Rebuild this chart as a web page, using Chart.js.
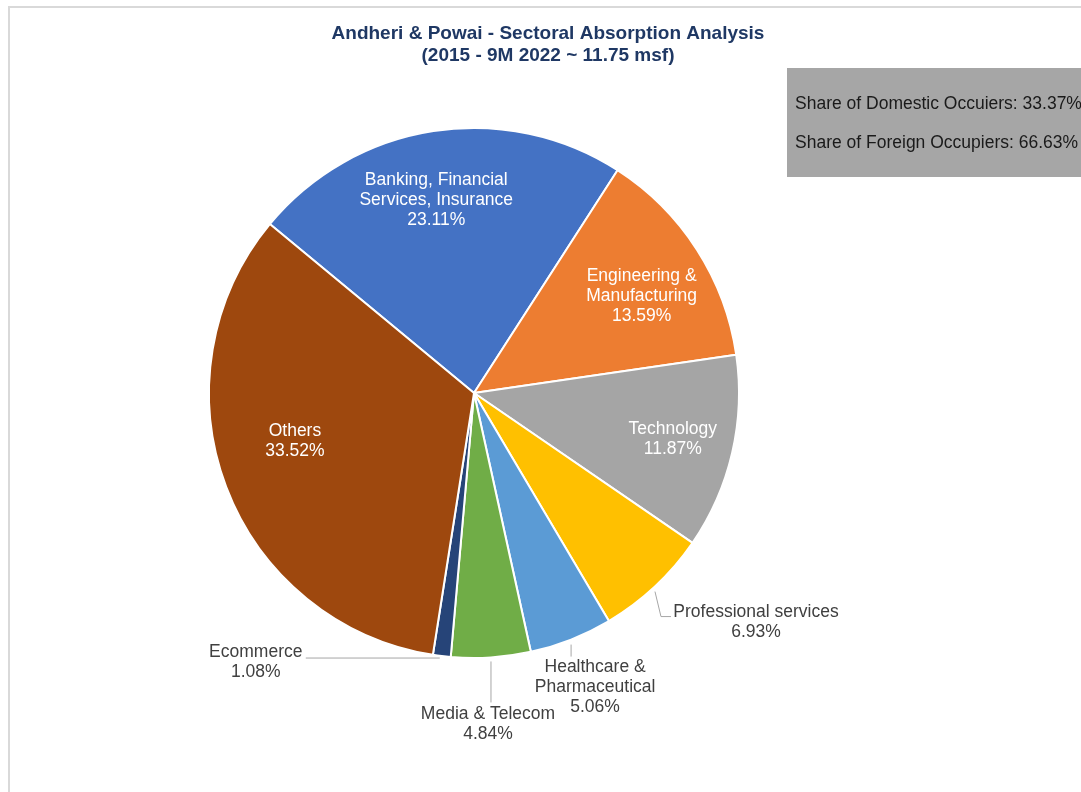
<!DOCTYPE html>
<html>
<head>
<meta charset="utf-8">
<script src="https://cdn.jsdelivr.net/npm/chart.js@4.4.0/dist/chart.umd.min.js"></script>
<style>
    html, body { margin: 0; padding: 0; background: #fff; }
    #wrap { width: 1081px; height: 792px; position: relative; }
</style>
</head>
<body>
<div id="wrap"><canvas id="sectorChart"></canvas></div>
<script>
// data
const sectors = ['Banking, Financial Services, Insurance', 'Engineering & Manufacturing', 'Technology',
    'Professional services', 'Healthcare & Pharmaceutical', 'Media & Telecom', 'Ecommerce', 'Others'];
const shares = [23.11, 13.59, 11.87, 6.93, 5.06, 4.84, 1.08, 33.52];
const labelLines = [['Banking, Financial', 'Services, Insurance'], ['Engineering &', 'Manufacturing'], ['Technology'],
    ['Professional services'], ['Healthcare &', 'Pharmaceutical'], ['Media & Telecom'], ['Ecommerce'], ['Others']];
const colours = ['#4472c4', '#ed7d31', '#a5a5a5', '#ffc000', '#5b9bd5', '#70ad47', '#264478', '#9e480e'];
const titleLines = ['Andheri & Powai - Sectoral Absorption Analysis', '(2015 - 9M 2022 ~ 11.75 msf)'];
const occupierNotes = ['Share of Domestic Occuiers: 33.37%', 'Share of Foreign Occupiers: 66.63%'];

const FONT = '"Liberation Sans", Arial, sans-serif';
const LINE_H = 20;

// how each label sits: inside at a fraction of the radius (plus a small angle nudge, degrees),
// or outside with a leader line
const labelPlace = [
    { inside: 0.74, turn: -2.3 },
    { inside: 0.73, turn: 2.8 },
    { inside: 0.77, turn: 0 },
    { leader: [[0, 5], [6, 30], [16, 30]], text: [101, 26] },
    { leader: [[0, 5], [0, 17]], text: [24, 28] },
    { leader: [[0, 4], [0, 45]], text: [-3, 57] },
    { leader: [[-2, 2], [-136, 2]], text: [-186, -4] },
    { inside: 0.70, turn: 5.6 }
];

const decorPlugin = {
    id: 'decor',
    beforeDraw(chart) {
        const c = chart.ctx;
        c.save();
        // outer frame (cut at right / bottom)
        c.strokeStyle = '#d9d9d9';
        c.lineWidth = 2;
        c.strokeRect(9, 7, 1200, 1000);
        // title
        c.fillStyle = '#1f3864';
        c.font = 'bold 19px ' + FONT;
        c.textAlign = 'center';
        c.textBaseline = 'middle';
        titleLines.forEach((t, i) => c.fillText(t, 548, 34 + i * 22));
        // grey note box
        c.fillStyle = '#a6a6a6';
        c.fillRect(787, 68, 300, 109);
        c.fillStyle = '#1a1a1a';
        c.font = '17.5px ' + FONT;
        c.textAlign = 'left';
        occupierNotes.forEach((t, i) => c.fillText(t, 795, 104 + i * 39));
        c.restore();
    },
    afterDatasetsDraw(chart) {
        const c = chart.ctx;
        const meta = chart.getDatasetMeta(0);
        c.save();
        c.font = '17.5px ' + FONT;
        c.textAlign = 'center';
        c.textBaseline = 'middle';
        meta.data.forEach((arc, i) => {
            const p = arc.getProps(['x', 'y', 'startAngle', 'endAngle', 'outerRadius'], true);
            const mid = (p.startAngle + p.endAngle) / 2;
            const lines = labelLines[i].concat([shares[i].toFixed(2) + '%']);
            const place = labelPlace[i];
            if (place.inside) {
                const r = p.outerRadius * place.inside;
                const a = mid + place.turn * Math.PI / 180;
                const cx = p.x + Math.cos(a) * r;
                const cy = p.y + Math.sin(a) * r;
                c.fillStyle = '#ffffff';
                const top = cy - (lines.length - 1) * LINE_H / 2;
                lines.forEach((t, k) => c.fillText(t, cx, top + k * LINE_H));
            } else {
                const ex = p.x + Math.cos(mid) * p.outerRadius;
                const ey = p.y + Math.sin(mid) * p.outerRadius;
                c.strokeStyle = '#a6a6a6';
                c.lineWidth = 1;
                c.beginPath();
                place.leader.forEach((pt, k) => {
                    if (k === 0) c.moveTo(ex + pt[0], ey + pt[1]);
                    else c.lineTo(ex + pt[0], ey + pt[1]);
                });
                c.stroke();
                c.fillStyle = '#404040';
                lines.forEach((t, k) => c.fillText(t, ex + place.text[0], ey + place.text[1] + k * LINE_H));
            }
        });
        c.restore();
    }
};

const ctx = document.getElementById('sectorChart').getContext('2d');
const sectorChart = new Chart(ctx, {
    type: 'pie',
    data: {
        labels: sectors,
        datasets: [{
            data: shares,
            backgroundColor: colours,
            borderColor: '#ffffff',
            borderWidth: 2
        }]
    },
    options: {
        responsive: true,
        maintainAspectRatio: false,
        animation: false,
        rotation: -50.4,
        layout: {
            padding: { left: 208, right: 341, top: 127, bottom: 133 }
        },
        plugins: {
            legend: { display: false },
            tooltip: { enabled: false },
            title: { display: false }
        }
    },
    plugins: [decorPlugin]
});
</script>
</body>
</html>
